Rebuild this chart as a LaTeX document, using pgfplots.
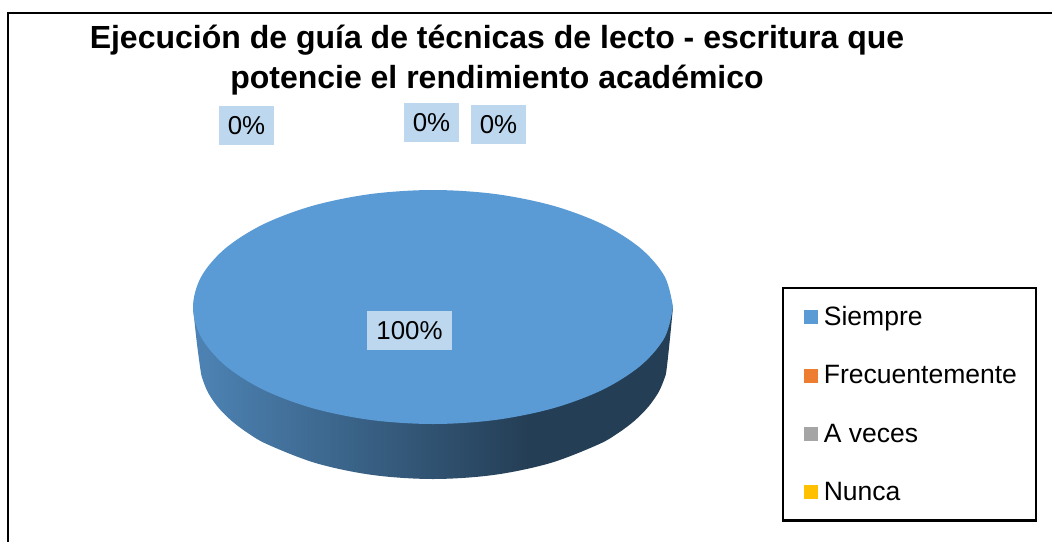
\documentclass[border=0pt]{standalone}
\usepackage{pgfplots}
\pgfplotsset{compat=1.18}
\usepackage{fontspec}
\setmainfont{Liberation Sans}
\definecolor{topblue}{HTML}{5B9BD5}
\definecolor{boxblue}{HTML}{BDD7EE}
\definecolor{sOrange}{HTML}{ED7D31}
\definecolor{sGray}{HTML}{A5A5A5}
\definecolor{sGold}{HTML}{FFC000}
\pgfdeclarehorizontalshading{wall}{100bp}{
 color(0bp)=(topblue!85!black);
 color(25bp)=(topblue!85!black);
 color(60bp)=(topblue!40!black);
 color(100bp)=(topblue!40!black)}
\newcommand{\lab}[4]{\node[fill=boxblue,minimum width=#3*0.75pt,minimum height=39*0.75pt,inner sep=0pt,font=\fontsize{19.4pt}{23pt}\selectfont] at (axis cs:#1,#2) {#4};}
\begin{document}
\begin{tikzpicture}
\useasboundingbox (0,0) rectangle (789pt,406.5pt);
\begin{axis}[
 scale only axis, width=789pt, height=406.5pt,
 xmin=0, xmax=1052, ymin=0, ymax=542, y dir=reverse,
 axis lines=none, ticks=none,
 legend style={at={(axis cs:782,287)},anchor=north west,draw=black,line width=1.7pt,
   font=\fontsize{19.9pt}{23pt}\selectfont,
   inner xsep=12pt, inner ysep=11.6pt, row sep=24.5pt,
   nodes={line width=0pt}},
 legend cell align=left,
 legend image code/.code={\fill[#1,draw=none] (2.75pt,-5.25pt) rectangle (13.25pt,5.25pt); \path (0pt,0pt) (14.8pt,0pt);},
]
% frame
\addplot[forget plot,black,line width=1.9pt] coordinates {(8,545)(8,13)(1060,13)};
% side wall
\addplot[forget plot,draw=none,shading=wall,smooth,tension=0.55] coordinates {
(673,307)(669.8,340)(666.5,370)(664.5,378.3)(658.5,392.3)(648.3,406.8)(634.8,420.5)(617.9,433.2)(597.8,444.7)(549.5,463.3)(493.3,475)(433,479)
(372.7,475)(316.5,463.3)(268.2,444.7)(248.1,433.2)(231.2,420.5)(217.7,406.8)(207.9,392.3)(202.3,378.3)(200.5,370)(196.5,340)(193,307)
} -- cycle;
% top face
\addplot[forget plot,fill=topblue,draw=none,smooth,tension=0.55] coordinates {
(673,307)(664.8,337.3)(640.8,365.5)(602.7,389.7)(553,408.3)(495.1,420)(433,424)
(370.9,420)(313,408.3)(263.3,389.7)(225.2,365.5)(201.2,337.3)(193,307)
(201.2,276.7)(225.2,248.5)(263.3,224.3)(313,205.7)(370.9,194)(433,190)
(495.1,194)(553,205.7)(602.7,224.3)(640.8,248.5)(664.8,276.7)(673,307)
} -- cycle;
\lab{409.5}{330.5}{85}{100\%}
\lab{246.5}{125.5}{55}{0\%}
\lab{431.5}{122.5}{55}{0\%}
\lab{498.5}{124.5}{55}{0\%}
\node[align=center,font=\fontsize{24pt}{29.4pt}\selectfont\bfseries] at (axis cs:497,60) {Ejecución de guía de técnicas de lecto - escritura que\\potencie el rendimiento académico};
\addlegendimage{topblue}
\addlegendentry{Siempre}
\addlegendimage{sOrange}
\addlegendentry{Frecuentemente}
\addlegendimage{sGray}
\addlegendentry{A veces}
\addlegendimage{sGold}
\addlegendentry{Nunca}
\end{axis}
\end{tikzpicture}
\end{document}
